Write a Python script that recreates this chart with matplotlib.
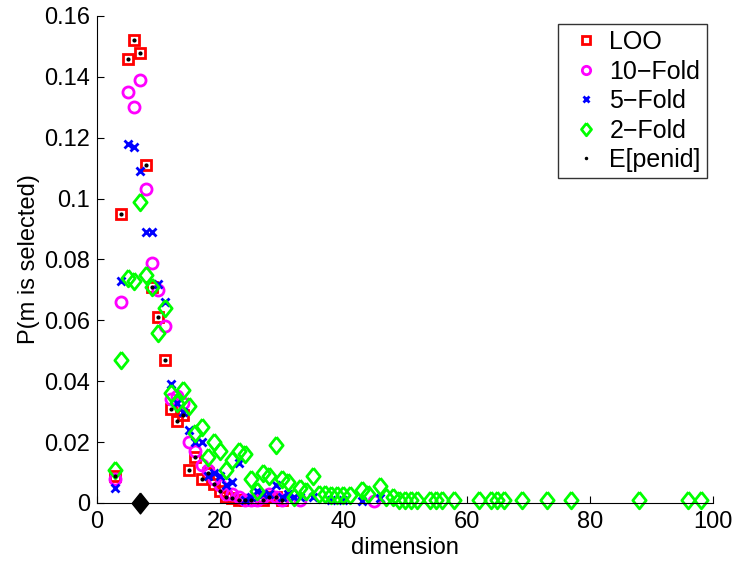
import matplotlib
matplotlib.use("Agg")
import matplotlib.pyplot as plt

plt.rcParams["font.family"] = ["Liberation Sans", "DejaVu Sans"]

# model dimension vs. probability of being selected
loo_x = [3, 4, 5, 6, 7, 8, 9, 10, 11, 12, 13, 14, 15, 16, 17, 18, 19, 20,
         21, 22, 23, 24, 25, 27, 28, 29, 30]
loo_y = [0.009, 0.095, 0.146, 0.152, 0.148, 0.111, 0.071, 0.061, 0.047,
         0.031, 0.027, 0.029, 0.011, 0.015, 0.008, 0.0097, 0.0062, 0.004,
         0.002, 0.0015, 0.001, 0.001, 0.001, 0.001, 0.002, 0.002, 0.001]

fold10_x = [3, 4, 5, 6, 7, 8, 9, 10, 11, 12, 13, 14, 15, 16, 17, 18, 19, 20,
            21, 22, 23, 24, 25, 26, 27, 28, 29, 30, 33, 45]
fold10_y = [0.008, 0.066, 0.135, 0.130, 0.139, 0.103, 0.079, 0.070, 0.058,
            0.034, 0.035, 0.033, 0.020, 0.017, 0.0125, 0.011, 0.008, 0.006,
            0.003, 0.003, 0.002, 0.001, 0.001, 0.001, 0.002, 0.003, 0.002,
            0.001, 0.001, 0.0005]

fold5_x = [3, 4, 5, 6, 7, 8, 9, 10, 11, 12, 13, 14, 15, 16, 17, 18, 19, 20,
           21, 22, 23, 24, 25, 26, 27, 28, 29, 30, 31, 32, 33, 35, 38, 40,
           43, 46]
fold5_y = [0.005, 0.073, 0.118, 0.117, 0.109, 0.089, 0.089, 0.072, 0.066,
           0.039, 0.033, 0.030, 0.024, 0.020, 0.020, 0.009, 0.0097, 0.009,
           0.006, 0.007, 0.013, 0.001, 0.002, 0.004, 0.003, 0.003, 0.006,
           0.002, 0.003, 0.002, 0.002, 0.002, 0.001, 0.001, 0.0005, 0.0015]

fold2_x = [3, 4, 5, 6, 7, 8, 9, 10, 11, 12, 13, 14, 15, 16, 17, 18, 19, 20,
           21, 22, 23, 24, 25, 26, 27, 28, 29, 30, 31, 32, 33, 34, 35, 36,
           37, 38, 39, 40, 41, 43, 44, 46, 47, 48, 49, 50, 51, 52, 54, 55,
           56, 58, 62, 64, 65, 66, 69, 73, 77, 88, 96, 98]
fold2_y = [0.011, 0.047, 0.074, 0.073, 0.099, 0.075, 0.071, 0.056, 0.064,
           0.036, 0.033, 0.037, 0.032, 0.023, 0.025, 0.015, 0.020, 0.017,
           0.011, 0.014, 0.017, 0.016, 0.008, 0.004, 0.010, 0.009, 0.019,
           0.008, 0.007, 0.002, 0.005, 0.004, 0.009, 0.003, 0.003, 0.0026,
           0.0026, 0.0026, 0.0026, 0.0043, 0.003, 0.0055, 0.002, 0.002,
           0.001, 0.001, 0.001, 0.001, 0.001, 0.001, 0.001, 0.001, 0.001,
           0.001, 0.001, 0.001, 0.001, 0.001, 0.001, 0.001, 0.001, 0.001]

# expected penalty-identified dimension coincides with LOO
epenid_x = loo_x
epenid_y = loo_y

true_dim = [7]
true_dim_y = [0]

# matlab-style diamond, a bit narrower than tall
diamond = [(0, 1), (0.8, 0), (0, -1), (-0.8, 0), (0, 1)]

fig = plt.figure(figsize=(7.39, 5.63), dpi=100)
ax = fig.add_axes([0.131, 0.1066, 0.834, 0.865])

ax.plot(loo_x, loo_y, "s", ls="none", mfc="none", mec="red", ms=7, mew=2,
        label="LOO", clip_on=False)
ax.plot(fold10_x, fold10_y, "o", ls="none", mfc="none", mec="magenta", ms=8,
        mew=2, label="10\u2212Fold", clip_on=False)
ax.plot(fold5_x, fold5_y, "x", ls="none", color="blue", ms=6, mew=2,
        label="5\u2212Fold", clip_on=False)
ax.plot(fold2_x, fold2_y, marker=diamond, ls="none", mfc="none",
        mec="#00ff00", ms=12, mew=2, label="2\u2212Fold", clip_on=False)
ax.plot(epenid_x, epenid_y, ".", ls="none", color="black", ms=4,
        label="E[penid]", clip_on=False)
ax.plot(true_dim, true_dim_y, marker=diamond, ls="none", color="black",
        ms=15, clip_on=False, zorder=5)

ax.set_xlim(0, 100)
ax.set_ylim(0, 0.16)
ax.set_xticks([0, 20, 40, 60, 80, 100])
ax.set_yticks([0, 0.02, 0.04, 0.06, 0.08, 0.1, 0.12, 0.14, 0.16])
ax.set_yticklabels(["0", "0.02", "0.04", "0.06", "0.08", "0.1", "0.12",
                    "0.14", "0.16"])
ax.tick_params(direction="in", labelsize=17, length=5)
ax.tick_params(axis="x", pad=6)
ax.tick_params(axis="y", pad=5)
ax.spines["top"].set_visible(False)
ax.spines["right"].set_visible(False)
ax.set_xlabel("dimension", fontsize=17, labelpad=3)
ax.set_ylabel("P(m is selected)", fontsize=17, labelpad=3)

leg = ax.legend(loc="upper right", bbox_to_anchor=(0.990, 0.984),
                borderaxespad=0, fontsize=18, frameon=True, fancybox=False,
                edgecolor="black", borderpad=0.25, labelspacing=0.22,
                handlelength=1.7, handletextpad=0.1, markerscale=0.75)
leg.get_frame().set_linewidth(1.0)

fig.savefig("out.png", dpi=100)
